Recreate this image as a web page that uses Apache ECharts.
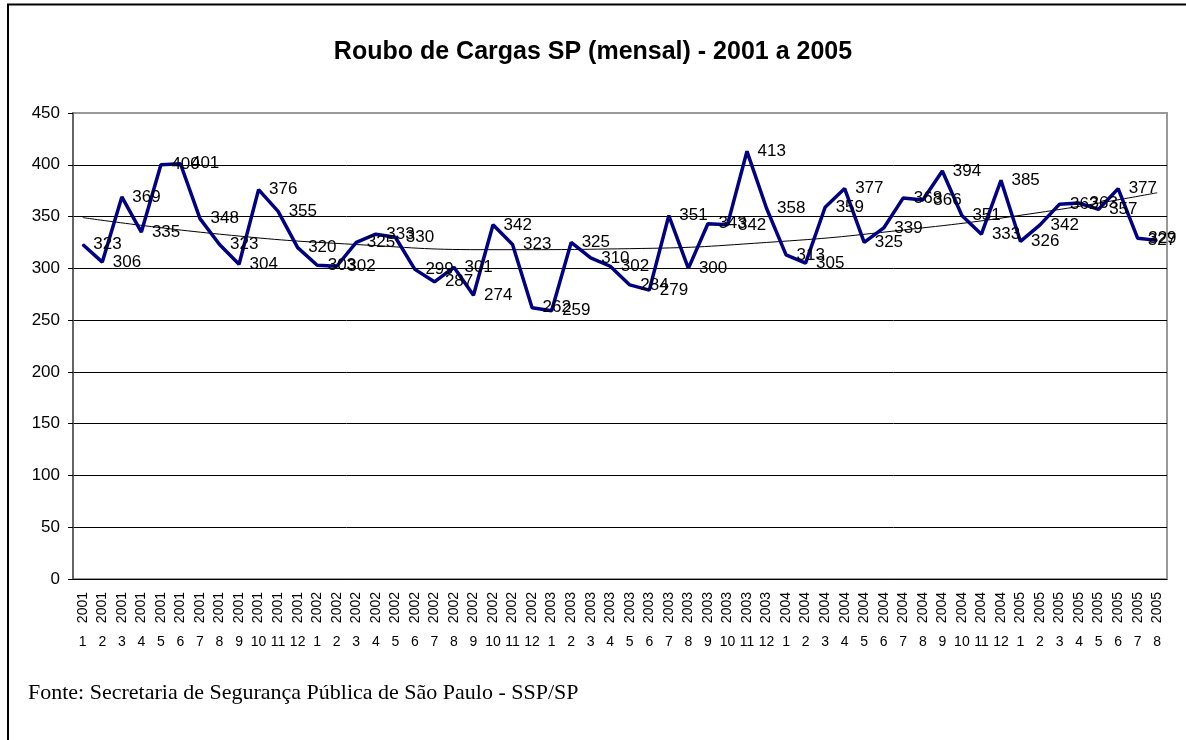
<!DOCTYPE html>
<html>
<head>
<meta charset="utf-8">
<title>Roubo de Cargas SP (mensal) - 2001 a 2005</title>
<script src="https://cdn.jsdelivr.net/npm/echarts@6/dist/echarts.min.js"></script>
<style>
    html, body { margin: 0; padding: 0; background: #fff; }
    #chart { width: 1186px; height: 740px; }
</style>
</head>
<body>
<div id="chart"></div>
<script>
    // valores mensais (roubos de carga)
    var v2001 = [323, 306, 369, 335, 400, 401, 348, 323, 304, 376, 355, 320];
    var v2002 = [303, 302, 325, 333, 330, 299, 287, 301, 274, 342, 323, 262];
    var v2003 = [259, 325, 310, 302, 284, 279, 351, 300, 343, 342, 413, 358];
    var v2004 = [313, 305, 359, 377, 325, 339, 368, 366, 394, 351, 333, 385];
    var v2005 = [326, 342, 362, 363, 357, 377, 329, 327];

    var years = [
        '2001','2001','2001','2001','2001','2001','2001','2001','2001','2001','2001','2001',
        '2002','2002','2002','2002','2002','2002','2002','2002','2002','2002','2002','2002',
        '2003','2003','2003','2003','2003','2003','2003','2003','2003','2003','2003','2003',
        '2004','2004','2004','2004','2004','2004','2004','2004','2004','2004','2004','2004',
        '2005','2005','2005','2005','2005','2005','2005','2005'
    ];
    var months = [
        '1','2','3','4','5','6','7','8','9','10','11','12',
        '1','2','3','4','5','6','7','8','9','10','11','12',
        '1','2','3','4','5','6','7','8','9','10','11','12',
        '1','2','3','4','5','6','7','8','9','10','11','12',
        '1','2','3','4','5','6','7','8'
    ];

    // linha de tendência
    var trendIdx = [0, 7, 14, 21, 28, 35, 42, 49, 55];
    var trendVal = [349, 333, 323, 318, 319, 325, 337, 354, 373];

    var values = v2001.concat(v2002, v2003, v2004, v2005);
    var trend = trendIdx.map(function (i, k) { return [i, trendVal[k]]; });

    // o último rótulo fica dentro da área do gráfico, como no Excel
    var lineData = values.map(function (v, i) {
        if (i === values.length - 1) {
            return { value: v, label: { offset: [-20, 0] } };
        }
        return v;
    });

    var myChart = echarts.init(document.getElementById('chart'));

    var gridColors = ['#000', '#000', '#000', '#000', '#000', '#000', '#000', '#000', '#000', '#999'];

    option = {
        backgroundColor: '#fff',
        animation: false,
        title: {
            text: 'Roubo de Cargas SP (mensal) - 2001 a 2005',
            left: 'center',
            top: 35,
            textStyle: {
                fontFamily: 'Liberation Sans, Arial',
                fontSize: 25,
                fontWeight: 'bold',
                color: '#000'
            }
        },
        grid: {
            left: 73,
            right: 19,
            top: 113,
            bottom: 161,
            show: true,
            borderColor: '#999',
            borderWidth: 2
        },
        xAxis: [{
            type: 'category',
            data: years,
            boundaryGap: true,
            axisLine: { lineStyle: { color: '#000', width: 1 } },
            axisTick: { interval: 0, length: 73, lineStyle: { color: '#333', width: 1.5 } },
            axisLabel: {
                interval: 0,
                rotate: 90,
                margin: 13,
                fontFamily: 'Liberation Sans, Arial',
                fontSize: 14,
                color: '#000'
            }
        }, {
            type: 'category',
            data: months,
            position: 'bottom',
            boundaryGap: true,
            axisLine: { show: false },
            axisTick: { show: false },
            axisLabel: {
                interval: 0,
                margin: 56,
                fontFamily: 'Liberation Sans, Arial',
                fontSize: 14,
                color: '#000'
            }
        }],
        yAxis: {
            type: 'value',
            min: 0,
            max: 450,
            interval: 50,
            axisLine: { show: true, lineStyle: { color: '#555', width: 1.5 } },
            axisTick: { show: true, length: 5, lineStyle: { color: '#000' } },
            axisLabel: {
                margin: 13,
                fontFamily: 'Liberation Sans, Arial',
                fontSize: 17,
                color: '#000'
            },
            splitLine: { show: true, lineStyle: { color: gridColors, width: 1 } }
        },
        series: [{
            name: 'Roubo de Cargas',
            type: 'line',
            data: lineData,
            symbol: 'circle',
            symbolSize: 1,
            showSymbol: true,
            showAllSymbol: true,
            lineStyle: { color: '#000080', width: 3.5 },
            itemStyle: { color: '#000080' },
            label: {
                show: true,
                position: 'right',
                distance: 10,
                fontFamily: 'Liberation Sans, Arial',
                fontSize: 17,
                color: '#000'
            },
            z: 3
        }, {
            name: 'Tendência',
            type: 'line',
            data: trend,
            smooth: true,
            symbol: 'none',
            lineStyle: { color: '#000', width: 1 },
            z: 2
        }],
        graphic: [{
            type: 'rect',
            shape: { x: 8, y: 4.5, width: 1400, height: 1000 },
            style: { fill: 'none', stroke: '#000', lineWidth: 2 },
            silent: true
        }, {
            type: 'text',
            left: 28,
            top: 682,
            style: {
                text: 'Fonte: Secretaria de Segurança Pública de São Paulo - SSP/SP',
                fontFamily: 'Liberation Serif, Times New Roman',
                fontSize: 22,
                fill: '#000'
            }
        }]
    };

    myChart.setOption(option);
</script>
</body>
</html>
